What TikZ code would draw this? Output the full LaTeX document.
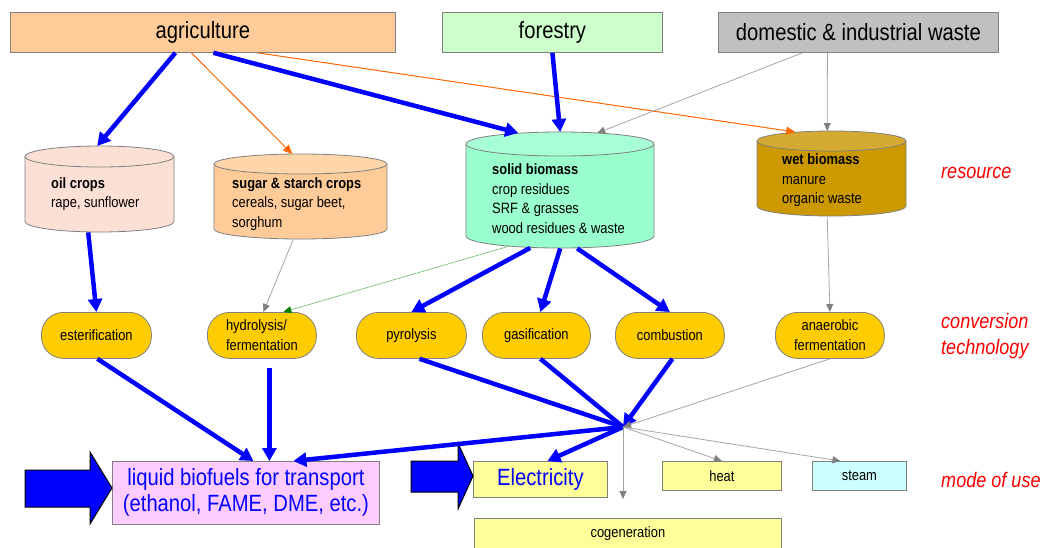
\documentclass[tikz,border=0pt]{standalone}
\usepackage{fontspec}
\setmainfont{Liberation Sans}[FakeStretch=0.86]
\usetikzlibrary{arrows.meta,calc}
\definecolor{agric}{HTML}{FFCC99}
\definecolor{forestc}{HTML}{CCFFCC}
\definecolor{wastec}{HTML}{C0C0C0}
\definecolor{oilc}{HTML}{FCE0D6}
\definecolor{sugarc}{HTML}{FFCC99}
\definecolor{sugartop}{HTML}{FFD6AA}
\definecolor{solidc}{HTML}{99FFCC}
\definecolor{solidtop}{HTML}{A8FFD6}
\definecolor{wetc}{HTML}{CC9900}
\definecolor{wettop}{HTML}{D4AA33}
\definecolor{convc}{HTML}{FFCC00}
\definecolor{liqc}{HTML}{FFCCFF}
\definecolor{yelc}{HTML}{FFFF99}
\definecolor{steamc}{HTML}{CCFFFF}
\definecolor{bblue}{HTML}{0000FF}
\definecolor{labred}{HTML}{FF0000}
\definecolor{orgc}{HTML}{FF6600}
\definecolor{boxgray}{HTML}{808080}
\definecolor{lgray}{HTML}{A6A6A6}
\definecolor{dgray}{HTML}{808080}
\definecolor{lgreen}{HTML}{66BB66}
\definecolor{dgreen}{HTML}{008000}
\tikzset{
  srcbox/.style={draw=boxgray, line width=0.8pt, anchor=north west, inner sep=0pt, minimum height=40pt, font=\fontsize{23.5}{27}\selectfont},
  convbox/.style={draw=boxgray, line width=0.8pt, fill=convc, rounded corners=22pt, anchor=north west, inner sep=0pt, minimum height=46pt, font=\fontsize{15}{20}\selectfont},
  usebox/.style={draw=boxgray, line width=0.8pt, anchor=north west, inner sep=0pt},
  cylline/.style={draw=boxgray, line width=0.8pt},
  cylarea/.style={inner sep=0pt, anchor=north west},
  cyltext/.style={anchor=west, align=left, inner sep=0pt, font=\fontsize{15}{19.5}\selectfont},
  sidelabel/.style={anchor=west, align=left, inner sep=0pt, text=labred, font=\itshape\fontsize{21}{26}\selectfont},
  bigarrow/.style={draw=bblue, line width=4.5pt, -{Triangle[length=13pt,width=14pt]}},
  bigline/.style={draw=bblue, line width=4.5pt},
  grayarrow/.style={draw=lgray, line width=0.8pt, -{Triangle[length=8pt,width=7pt,color=dgray]}},
  orangearrow/.style={draw=orgc, line width=1pt, -{Triangle[length=9pt,width=8pt]}},
  greenarrow/.style={draw=lgreen, line width=0.6pt, -{Triangle[length=8pt,width=7pt,color=dgreen]}},
  blockarrow/.style={draw=black, line width=1pt, fill=bblue, line join=miter},
}
\newcommand\mycyl[8]{%
  \pgfmathsetmacro\cylrx{(#3-#2)/2}%
  \pgfmathsetmacro\cylcx{(#3+#2)/2}%
  \pgfmathsetmacro\cyla{#4+#6}%
  \pgfmathsetmacro\cylb{#5-#6}%
  \pgfmathsetmacro\cylw{#3-#2}%
  \pgfmathsetmacro\cylh{#5-#4}%
  \filldraw[cylline, fill=#7] (#2,\cyla) -- (#2,\cylb) arc[start angle=180, end angle=0, x radius=\cylrx, y radius=#6] -- (#3,\cyla);
  \filldraw[cylline, fill=#8] (\cylcx,\cyla) ellipse[x radius=\cylrx, y radius=#6];
  \node[cylarea, minimum width=\cylw pt, minimum height=\cylh pt] (#1) at (#2,#4) {};
}
\begin{document}
\begin{tikzpicture}[x=1pt,y=-1pt]
\useasboundingbox (0,0) rectangle (1048,547);
\fill[white] (0,0) rectangle (1048,547);

% sources
\node[srcbox, fill=agric, minimum width=385pt] (agri) at (10,12) {agriculture};
\node[srcbox, fill=forestc, minimum width=220pt] (forest) at (442,12) {forestry};
\node[srcbox, fill=wastec, minimum width=280pt] (waste) at (718,12) {domestic \& industrial waste};

% resources (cylinders)
\mycyl{oil}{25}{174}{146}{232}{10.5}{oilc}{oilc}
\mycyl{sugar}{214}{387}{154}{239}{10}{sugarc}{sugartop}
\mycyl{solid}{466}{654}{132}{248}{12}{solidc}{solidtop}
\mycyl{wet}{757}{906}{131}{216}{10}{wetc}{wettop}

\node[cyltext] (oiltxt) at (51,194) {\textbf{oil crops}\\rape, sunflower};
\node[cyltext] (sugartxt) at (232,204) {\textbf{sugar \& starch crops}\\cereals, sugar beet,\\sorghum};
\node[cyltext] (solidtxt) at (492,198.5) {\textbf{solid biomass}\\crop residues\\SRF \& grasses\\wood residues \& waste};
\node[cyltext] (wettxt) at (782,180.5) {\textbf{wet biomass}\\manure\\organic waste};

% conversion technologies
\node[convbox, minimum width=110pt] (ester) at (41,312) {esterification};
\node[convbox, minimum width=109pt, align=left] (hydro) at (207,312) {hydrolysis/\\fermentation};
\node[convbox, minimum width=110pt] (pyro) at (356,312) {pyrolysis};
\node[convbox, minimum width=108pt] (gasif) at (482,312) {gasification};
\node[convbox, minimum width=109pt] (comb) at (615,312) {combustion};
\node[convbox, minimum width=109pt, align=center] (anaer) at (775,312) {anaerobic\\fermentation};

% modes of use
\node[usebox, fill=liqc, minimum width=267pt, minimum height=63pt, align=center, text=bblue, font=\fontsize{23.5}{26}\selectfont] (liquid) at (112,461) {liquid biofuels for transport\\(ethanol, FAME, DME, etc.)};
\node[usebox, fill=yelc, minimum width=134pt, minimum height=36pt, text=bblue, font=\fontsize{23.5}{26}\selectfont] (elec) at (473,461) {Electricity};
\node[usebox, fill=yelc, minimum width=119pt, minimum height=29pt, font=\fontsize{15}{18}\selectfont] (heat) at (662,461) {heat};
\node[usebox, fill=steamc, minimum width=94pt, minimum height=29pt, font=\fontsize{15}{18}\selectfont] (steam) at (812,461) {steam};
\node[usebox, fill=yelc, minimum width=307pt, minimum height=34pt, font=\fontsize{15}{18}\selectfont, text depth=7pt] (cogen) at (474,518) {cogeneration};

% side labels
\node[sidelabel] (lres) at (941,173) {resource};
\node[sidelabel] (lconv) at (941,336) {conversion\\technology};
\node[sidelabel] (lmode) at (941,480) {mode of use};

\coordinate (hub) at (623,427);
\coordinate (cogtip) at (623,499);

% block arrows
\draw[blockarrow] (25,470) -- (90,470) -- (90,452) -- (112,488) -- (90,524) -- (90,507) -- (25,507) -- cycle;
\draw[blockarrow] (411,461) -- (458,461) -- (458,443) -- (473,476) -- (458,509) -- (458,492) -- (411,492) -- cycle;

% source -> resource
\draw[bigarrow] ([xshift=-27.5pt]agri.south) -- ([xshift=-2.5pt]oil.north);
\draw[orangearrow] ([xshift=-11.5pt]agri.south) -- ([xshift=-8.5pt]sugar.north);
\draw[bigarrow] ([xshift=10.5pt]agri.south) -- ([xshift=-42pt,yshift=-1pt]solid.north);
\draw[orangearrow] ([xshift=54.5pt]agri.south) -- ([xshift=-36.5pt,yshift=-1pt]wet.north);
\draw[bigarrow] (forest.south) -- (solid.north);
\draw[grayarrow] ([xshift=-56pt]waste.south) -- ([xshift=37pt,yshift=-1pt]solid.north);
\draw[grayarrow] ([xshift=-31pt]waste.south) -- ([xshift=-4.5pt]wet.north);

% resource -> conversion
\draw[bigarrow] ([xshift=-11.5pt]oil.south) -- (ester.north);
\draw[grayarrow] ([xshift=-7.5pt]sugar.south) -- ([xshift=1.5pt]hydro.north);
\draw[greenarrow] ([xshift=-52pt,yshift=2pt]solid.south) -- ([xshift=21.5pt]hydro.north);
\draw[bigarrow] ([xshift=-30pt,yshift=0.5pt]solid.south) -- (pyro.north);
\draw[bigarrow] ([xshift=0pt]solid.south) -- ([xshift=4pt]gasif.north);
\draw[bigarrow] ([xshift=17pt]solid.south) -- (comb.north);
\draw[grayarrow] ([xshift=-4.5pt]wet.south) -- (anaer.north);

% conversion -> use
\draw[bigarrow] ([xshift=1pt]ester.south) -- ([xshift=7.5pt]liquid.north);
\draw[bigarrow] ([xshift=7.5pt,yshift=-9pt]hydro.south) -- ([xshift=23.5pt]liquid.north);
\draw[bigline] ([xshift=8pt]pyro.south) -- (hub);
\draw[bigline] ([xshift=4pt]gasif.south) -- (hub);
\draw[bigarrow] ([xshift=2.5pt]comb.south) -- (hub);
\draw[grayarrow] (anaer.south) -- (hub);

% hub -> use
\draw[bigarrow] (hub) -- ([xshift=47.5pt]liquid.north);
\draw[bigarrow] (hub) -- ([xshift=7pt]elec.north);
\draw[grayarrow] (hub) -- (heat.north);
\draw[grayarrow] (hub) -- ([xshift=-19pt]steam.north);
\draw[grayarrow] (hub) -- (cogtip);
\end{tikzpicture}
\end{document}
